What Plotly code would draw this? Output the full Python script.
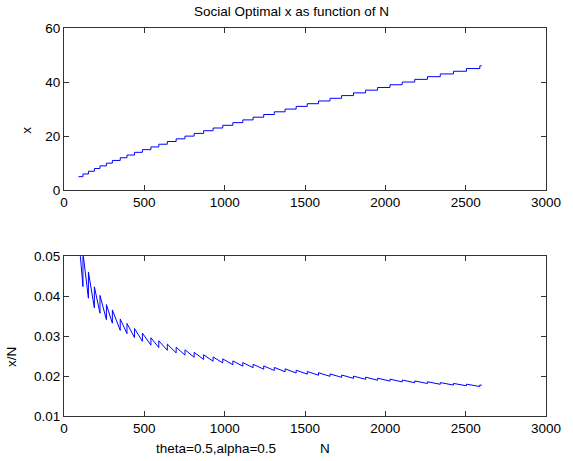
import plotly.graph_objects as go

# N at which the social optimal x steps up to each value
x_values = list(range(5, 47))
step_N = [90, 118, 152, 189, 224, 264, 301, 350, 392, 439, 488, 541, 590, 643,
          698, 753, 810, 869, 928, 988, 1051, 1113, 1177, 1243, 1309, 1376,
          1445, 1514, 1584, 1656, 1728, 1802, 1877, 1952, 2029, 2105, 2183,
          2262, 2342, 2424, 2505, 2588]
N_end = 2600

x_tick_vals = [0, 500, 1000, 1500, 2000, 2500, 3000]
top_y_ticks = [0, 20, 40, 60]
bot_y_ticks = [0.01, 0.02, 0.03, 0.04, 0.05]

# top: step function
top_N = step_N + [N_end]
top_x = x_values + [x_values[-1]]

# bottom: x/N within each step
bot_N, bot_r = [], []
ends = step_N[1:] + [N_end]
for k, s, e in zip(x_values, step_N, ends):
    bot_N += [s, e]
    bot_r += [k / s, k / e]

fig = go.Figure()
fig.add_trace(go.Scatter(x=top_N, y=top_x, mode="lines", line_shape="hv",
                         line=dict(color="#0000ff", width=1), xaxis="x", yaxis="y"))
fig.add_trace(go.Scatter(x=bot_N, y=bot_r, mode="lines",
                         line=dict(color="#0000ff", width=1), xaxis="x2", yaxis="y2"))

font = dict(family="Liberation Sans, Arial, sans-serif", size=13.5, color="#000000")
axis_common = dict(showline=True, mirror="allticks", linecolor="#333333", linewidth=1,
                   ticks="inside", ticklen=5, tickcolor="#333333", showgrid=False,
                   zeroline=False, tickfont=font)

fig.update_layout(
    width=573, height=461,
    margin=dict(l=64, r=17, t=28, b=45),
    paper_bgcolor="white", plot_bgcolor="white",
    showlegend=False, font=font,
    xaxis=dict(domain=[0, 1], range=[0, 3000], tickvals=x_tick_vals, anchor="y", **axis_common),
    yaxis=dict(domain=[0.582, 1], range=[0, 60], tickvals=top_y_ticks, anchor="x", **axis_common),
    xaxis2=dict(domain=[0, 1], range=[0, 3000], tickvals=x_tick_vals, anchor="y2", **axis_common),
    yaxis2=dict(domain=[0, 0.412], range=[0.01, 0.05], tickvals=bot_y_ticks,
                tickformat=".2f", anchor="x2", **axis_common),
    annotations=[
        dict(text="Social Optimal x as function of N", x=296, y=12, showarrow=False, font=font),
        dict(text="x", x=25, y=130, showarrow=False, textangle=-90, font=font),
        dict(text="x/N", x=10, y=357, showarrow=False, textangle=-90, font=font),
        dict(text="theta=0.5,alpha=0.5", x=219, y=448, showarrow=False, font=font),
        dict(text="N", x=330, y=448, showarrow=False, font=font),
    ],
)

# convert pixel positions of annotations to paper coords
pw, ph = 573 - 64 - 17, 461 - 28 - 45
for a in fig.layout.annotations:
    px, py = a.x, a.y
    a.xref = "paper"
    a.yref = "paper"
    a.x = (px - 64) / pw
    a.y = (461 - 45 - py) / ph
    a.xanchor = "center"
    a.yanchor = "middle"

fig.write_html("out.html")
